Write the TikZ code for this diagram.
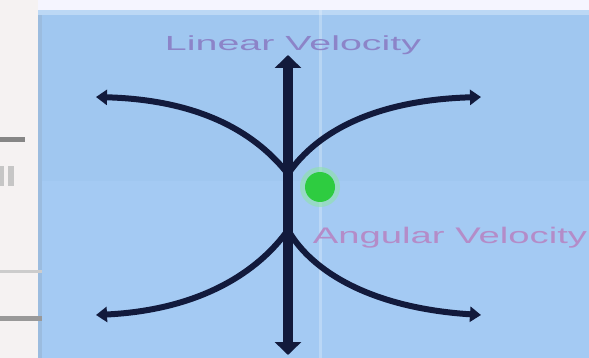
\documentclass[tikz,border=0pt]{standalone}
\usepackage{fontspec}
\setmainfont{Liberation Sans}
\usetikzlibrary{arrows.meta}
\definecolor{bgblue}{HTML}{A0C7F0}
\definecolor{bgblue2}{HTML}{A4CAF3}
\definecolor{navy}{HTML}{121A3C}
\definecolor{linpurple}{HTML}{8C84C8}
\definecolor{angpink}{HTML}{B48CC8}
\definecolor{dotgreen}{HTML}{2ECC40}
\definecolor{halo}{HTML}{8FE3A8}
\definecolor{paper}{HTML}{F5F2F2}
\tikzset{
  thickarrow/.style={draw=navy, line width=9.5pt, {Triangle[length=13pt,width=26pt]}-{Triangle[length=13pt,width=26pt]}},
  curvearrow/.style={draw=navy, line width=6pt, -{Triangle[length=11pt,width=15pt]}},
  label/.style={inner sep=0pt, anchor=center},
  mark/.style={fill=#1, draw=none}
}
\begin{document}
\begin{tikzpicture}[x=1pt,y=-1pt]
\useasboundingbox (0,0) rectangle (589,358);
% paper
\fill[paper] (0,0) rectangle (589,358);
\fill[blue!4!white] (38,0) rectangle (589,10);
% blue panel
\fill[bgblue] (38,10) rectangle (589,181);
\fill[bgblue2] (38,181) rectangle (589,358);
\fill[bgblue!85!gray] (38,10) rectangle (42,358);
\fill[bgblue!70!white] (38,10) rectangle (589,15);
\draw[line width=3pt, draw=white, opacity=0.25] (320,10) -- (320,358);
% cropped fragments at left edge
\fill[mark=gray!95] (0,137) rectangle (25,142);
\fill[mark=gray!45] (0,166) rectangle (4,186);
\fill[mark=gray!45] (8,166) rectangle (14,186);
\fill[mark=gray!40] (0,270) rectangle (42,273);
\fill[mark=gray!80] (0,316) rectangle (42,321);
% labels
\node[label, text=linpurple] (lin) at (293,45) {\resizebox*{256pt}{19pt}{Linear Velocity}};
\node[label, text=angpink] (ang) at (450,238) {\resizebox*{274pt}{21pt}{Angular Velocity}};
% coordinates
\coordinate (top) at (288,55);
\coordinate (bot) at (288,355);
\coordinate (cu) at (288,174);
\coordinate (cd) at (288,230);
\coordinate (ul) at (96,97);
\coordinate (ur) at (481,97);
\coordinate (dl) at (96,315);
\coordinate (dr) at (481,315);
% green dot
\fill[halo, opacity=0.6] (320,187) circle (20);
\node[circle, fill=dotgreen, minimum size=30pt, inner sep=0pt] (dot) at (320,187) {};
% curves
\draw[curvearrow] (cu) .. controls (258,136) and (205,100) .. (ul);
\draw[curvearrow] (cu) .. controls (318,130) and (378,100) .. (ur);
\draw[curvearrow] (cd) .. controls (258,272) and (200,310) .. (dl);
\draw[curvearrow] (cd) .. controls (312,272) and (372,308) .. (dr);
% vertical arrow
\draw[thickarrow] (top) -- (bot);
\end{tikzpicture}
\end{document}
